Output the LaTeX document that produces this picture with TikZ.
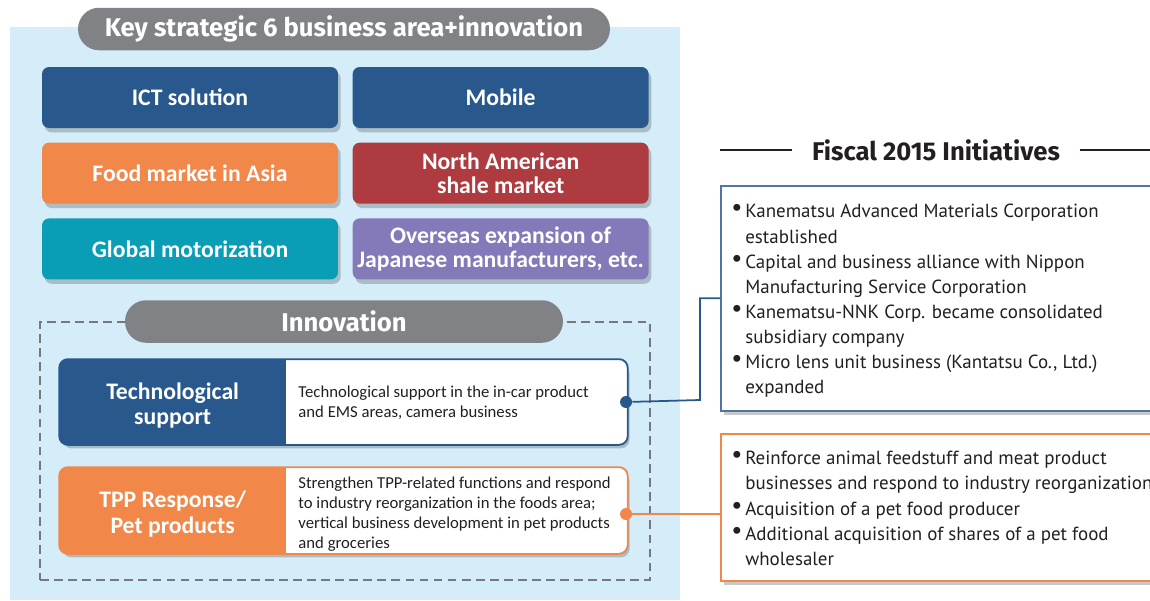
\documentclass[tikz,border=0pt]{standalone}
\usepackage{fontspec}
\setmainfont{Fira Sans}
\newfontfamily\condfont{Carlito}
\newfontfamily\listfont{PT Sans}
\usetikzlibrary{positioning,shadows}

\definecolor{skyback}{HTML}{D4EDF9}
\definecolor{pillgray}{HTML}{808285}
\definecolor{framegray}{HTML}{77787B}
\definecolor{ictblue}{HTML}{29598C}
\definecolor{foodorange}{HTML}{F2874A}
\definecolor{shalered}{HTML}{AE3B40}
\definecolor{motorteal}{HTML}{0A9DB6}
\definecolor{overseaspurple}{HTML}{8479B9}
\definecolor{initblue}{HTML}{4E74AA}
\definecolor{textdark}{HTML}{231F20}

% bullet and hanging indent for the initiative lists
\newcommand{\initem}{\makebox[0.28cm][l]{\raisebox{0.2ex}{\scalebox{1.3}{\textbullet}}}}
\newcommand{\inindent}{\hspace*{0.28cm}}

\begin{document}
\begin{tikzpicture}[
    x=0.02cm, y=-0.02cm,
    boxshadow/.style={drop shadow={shadow xshift=1.5pt, shadow yshift=-2.5pt, opacity=0.3, fill=black!70}},
    pill/.style={fill=pillgray, rounded corners=0.42cm, text=white,
        font=\bfseries\fontsize{14.6}{16}\selectfont, minimum height=0.85cm},
    area/.style={rounded corners=4pt, minimum width=5.92cm, minimum height=1.22cm,
        text=white, align=center, inner sep=0pt, boxshadow,
        font=\condfont\bfseries\fontsize{13.5}{14}\selectfont},
    panel/.style={fill=white, rounded corners=5pt, line width=1pt,
        minimum width=11.34cm, boxshadow},
    panellabel/.style={text=white, align=center,
        font=\condfont\bfseries\fontsize{13.5}{14.7}\selectfont},
    desc/.style={anchor=west, align=left, inner sep=0pt,
        text=textdark, font=\condfont\fontsize{9.5}{11.3}\selectfont},
    dot/.style={circle, inner sep=0pt, minimum size=0.24cm},
    initbox/.style={fill=white, line width=1pt, anchor=north west,
        minimum width=9.2cm, boxshadow},
    initlist/.style={anchor=north west, align=left, inner sep=0pt, text=textdark,
        font=\listfont\fontsize{10.8}{14.3}\selectfont}
]
\clip (0,0) rectangle (1150,600);

% strategic areas panel
\fill[skyback] (10,27) rectangle (680,600);
\node[pill, minimum width=10.64cm] (keytitle) at (344,29) {Key strategic 6 business area+innovation};

\node[area, fill=ictblue] (ict) at (190,97.5) {ICT solution};
\node[area, fill=ictblue, right=0.28cm of ict] (mobile) {Mobile};
\node[area, fill=foodorange, below=0.28cm of ict] (food) {Food market in Asia};
\node[area, fill=shalered, below=0.28cm of mobile] (shale) {North American\\shale market};
\node[area, fill=motorteal, below=0.28cm of food] (motor) {Global motorization};
\node[area, fill=overseaspurple, below=0.28cm of shale] (overseas) {Overseas expansion of\\Japanese manufacturers, etc.};

% innovation frame
\node[draw=framegray, line width=1.5pt, dash pattern=on 5pt off 3pt,
    minimum width=12.2cm, minimum height=5.16cm] (innoframe) at (345,451) {};
\node[pill, minimum width=8.76cm] (innotitle) at (344,321.5) {Innovation};

% technological support
\node[panel, minimum height=1.68cm] (tech) at (343.5,402) {};
\begin{scope}
  \clip[rounded corners=5pt] (tech.north west) rectangle (tech.south east);
  \fill[ictblue] (tech.north west) rectangle ([xshift=4.54cm]tech.south west);
\end{scope}
\draw[ictblue, line width=1pt, rounded corners=5pt] (tech.north west) rectangle (tech.south east);
\node[panellabel] (techlabel) at ([xshift=2.27cm,yshift=-2pt]tech.west) {Technological\\support};
\node[desc] (techdesc) at ([xshift=4.78cm,yshift=-0.5pt]tech.west)
    {Technological support in the in-car product\\and EMS areas, camera business};
\node[dot, fill=ictblue] (techdot) at ([xshift=-1pt]tech.east) {};

% TPP response / pet products
\node[panel, minimum height=1.70cm] (tpp) at (343.5,510.5) {};
\begin{scope}
  \clip[rounded corners=5pt] (tpp.north west) rectangle (tpp.south east);
  \fill[foodorange] (tpp.north west) rectangle ([xshift=4.54cm]tpp.south west);
\end{scope}
\draw[foodorange, line width=1pt, rounded corners=5pt] (tpp.north west) rectangle (tpp.south east);
\node[panellabel] (tpplabel) at ([xshift=2.27cm,yshift=-2pt]tpp.west) {TPP Response/\\Pet products};
\node[desc] (tppdesc) at ([xshift=4.78cm,yshift=-2pt]tpp.west)
    {Strengthen TPP-related functions and respond\\to industry reorganization in the foods area;\\vertical business development in pet products\\and groceries};
\node[dot, fill=foodorange] (tppdot) at ([xshift=-1pt,yshift=-2pt]tpp.east) {};

% fiscal 2015 initiatives
\node[text=textdark, font=\bfseries\fontsize{14.6}{16}\selectfont] (fiscal) at (936,150) {Fiscal 2015 Initiatives};
\coordinate (ruleL) at (720,150);
\coordinate (ruleR) at (1150,150);
\draw[textdark, line width=0.6pt] (ruleL) -- ([xshift=-0.28cm]fiscal.west);
\draw[textdark, line width=0.6pt] ([xshift=0.28cm]fiscal.east) -- (ruleR);

\node[initbox, draw=initblue, minimum height=4.5cm] (initA) at (720,185) {};
\node[initlist] (initAtext) at (731,204) {%
  \initem Kanematsu Advanced Materials Corporation\\
  \inindent established\\
  \initem Capital and business alliance with Nippon\\
  \inindent Manufacturing Service Corporation\\
  \initem Kanematsu-NNK Corp. became consolidated\\
  \inindent subsidiary company\\
  \initem Micro lens unit business (Kantatsu Co., Ltd.)\\
  \inindent expanded};

\node[initbox, draw=foodorange, minimum height=2.94cm] (initB) at (720,433) {};
\node[initlist] (initBtext) at (731,451) {%
  \initem Reinforce animal feedstuff and meat product\\
  \inindent businesses and respond to industry reorganization\\
  \initem Acquisition of a pet food producer\\
  \initem Additional acquisition of shares of a pet food\\
  \inindent wholesaler};

% connectors
\coordinate (bend) at (700,400);
\draw[ictblue, line width=1pt] (techdot) -- (bend) |- (initA.west);
\draw[foodorange, line width=1pt] (tppdot) -- (tppdot -| initB.west);
\end{tikzpicture}
\end{document}
